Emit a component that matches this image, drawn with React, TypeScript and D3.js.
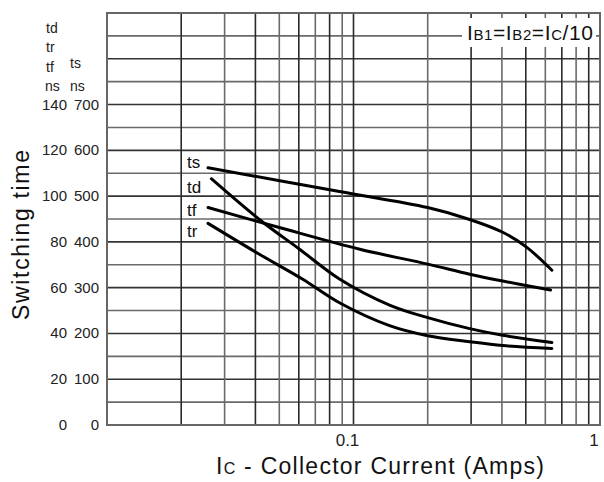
import { useEffect, useRef } from 'react'
import * as d3 from 'd3'

const tsI = [0.0257, 0.0877, 0.2, 0.296, 0.403, 0.505, 0.638]
const tsNs = [562, 510, 475, 449, 421, 388, 338] // right axis

const tdI = [0.0265, 0.0415, 0.0604, 0.0877, 0.14, 0.2, 0.296, 0.403, 0.638]
const tdNs = [107.6, 89.8, 76.8, 63.8, 52.4, 46.9, 42.1, 39.2, 36.0]

const tfI = [0.0257, 0.05, 0.106, 0.2, 0.296, 0.403, 0.63]
const tfNs = [95.0, 86.3, 76.8, 70.3, 65.9, 62.9, 59.0]

const trI = [0.0257, 0.0415, 0.062, 0.0877, 0.14, 0.2, 0.296, 0.403, 0.638]
const trNs = [88.1, 74.6, 63.8, 53.4, 43.4, 39.0, 36.4, 34.7, 33.4]

const leftTicks = [0, 20, 40, 60, 80, 100, 120, 140]
const rightTicks = [0, 100, 200, 300, 400, 500, 600, 700]
const xGrid = [0.02, 0.03, 0.04, 0.05, 0.06, 0.07, 0.08, 0.09, 0.1, 0.2, 0.3, 0.4, 0.5, 0.6, 0.7, 0.8, 0.9]
const xLabels = [0.1, 1]

const curveLabels = ['ts', 'td', 'tf', 'tr']

export default function App() {
  const svgRef = useRef<SVGSVGElement>(null)

  useEffect(() => {
    const el = svgRef.current
    if (!el) return
    const width = 604
    const height = 482
    const m = { left: 107, right: 4, top: 13, bottom: 57 }

    const x = d3.scaleLog().domain([0.01, 1]).range([m.left, width - m.right])
    const yL = d3.scaleLinear().domain([0, 180]).range([height - m.bottom, m.top])
    const yR = d3.scaleLinear().domain([0, 900]).range([height - m.bottom, m.top])

    const svg = d3.select(el)
    svg.selectAll('*').remove()
    const font = 'Liberation Sans, Arial, sans-serif'

    // grid
    const g = svg.append('g')
    g.selectAll('line.h')
      .data(d3.range(10, 180, 10))
      .join('line')
      .attr('x1', m.left).attr('x2', width - m.right)
      .attr('y1', d => yL(d)).attr('y2', d => yL(d))
      .attr('stroke', d => (d % 20 === 0 ? '#333' : '#6a6a6a'))
      .attr('stroke-width', 1.6)
    g.selectAll('line.v')
      .data(xGrid)
      .join('line')
      .attr('x1', d => x(d)).attr('x2', d => x(d))
      .attr('y1', m.top).attr('y2', height - m.bottom)
      .attr('stroke', (d, i) => (i % 2 === 0 ? '#2a2a2a' : '#6a6a6a'))
      .attr('stroke-width', 1.6)
    g.append('rect')
      .attr('x', m.left).attr('y', m.top)
      .attr('width', width - m.right - m.left)
      .attr('height', height - m.bottom - m.top)
      .attr('fill', 'none')
      .attr('stroke', '#666')
      .attr('stroke-width', 2)

    // legend box
    svg.append('rect')
      .attr('x', 462).attr('y', 18).attr('width', 134).attr('height', 29)
      .attr('fill', '#fff')
    const leg = svg.append('text')
      .attr('x', 467).attr('y', 40)
      .attr('font-family', font).attr('fill', '#111')
      .attr('textLength', 126).attr('lengthAdjust', 'spacing')
    const parts: [string, number][] = [['I', 21], ['B1', 15], ['=', 21], ['I', 21], ['B2', 15], ['=', 21], ['I', 21], ['C', 15], ['/10', 21]]
    parts.forEach(([t, s]) => leg.append('tspan').attr('font-size', s).text(t))

    // curves
    const line = d3.line<[number, number]>().curve(d3.curveCatmullRom.alpha(0.5))
    const series: [number[], number[], d3.ScaleLinear<number, number>][] = [
      [tsI, tsNs, yR],
      [tdI, tdNs, yL],
      [tfI, tfNs, yL],
      [trI, trNs, yL],
    ]
    series.forEach(([xs, ys, sc]) => {
      const pts = xs.map((v, i) => [x(v), sc(ys[i])] as [number, number])
      svg.append('path')
        .attr('d', line(pts))
        .attr('fill', 'none')
        .attr('stroke', '#000')
        .attr('stroke-width', 3)
        .attr('stroke-linecap', 'round')
    })
    // curve names sit in a column left of the starts, nudged apart
    const nudge = [0, 14, 8, 14]
    const labelX = x(tsI[0]) - 21
    series.forEach(([xs, ys, sc], i) => {
      svg.append('text')
        .attr('x', labelX).attr('y', sc(ys[0]) + nudge[i])
        .attr('font-family', font).attr('font-size', 17).attr('fill', '#111')
        .text(curveLabels[i])
    })

    // y tick labels
    svg.append('g').selectAll('text')
      .data(leftTicks)
      .join('text')
      .attr('x', 67).attr('y', d => yL(d) + 5)
      .attr('text-anchor', 'end')
      .attr('font-family', font).attr('font-size', 15).attr('fill', '#222')
      .text(d => d)
    svg.append('g').selectAll('text')
      .data(rightTicks)
      .join('text')
      .attr('x', 99).attr('y', d => yR(d) + 5)
      .attr('text-anchor', 'end')
      .attr('font-family', font).attr('font-size', 15).attr('fill', '#222')
      .text(d => d)

    // unit labels top-left
    const units: [string, number, number][] = [
      ['td', 46, 33], ['tr', 46, 52], ['tf', 46, 72], ['ns', 45, 91], ['ts', 70, 68], ['ns', 70, 91],
    ]
    svg.append('g').selectAll('text')
      .data(units)
      .join('text')
      .attr('x', d => d[1]).attr('y', d => d[2])
      .attr('font-family', font).attr('font-size', 14).attr('fill', '#222')
      .text(d => d[0])

    // x tick labels
    svg.append('g').selectAll('text')
      .data(xLabels)
      .join('text')
      .attr('x', d => x(d) - 6).attr('y', 446)
      .attr('text-anchor', 'middle')
      .attr('font-family', font).attr('font-size', 17).attr('fill', '#222')
      .text(d => String(d))

    // axis titles
    const xt = svg.append('text')
      .attr('x', 216).attr('y', 474)
      .attr('font-family', font).attr('fill', '#111')
      .attr('textLength', 328).attr('lengthAdjust', 'spacing')
    xt.append('tspan').attr('font-size', 23).text('I')
    xt.append('tspan').attr('font-size', 16).text('C')
    xt.append('tspan').attr('font-size', 23).text(' - Collector Current (Amps)')

    svg.append('text')
      .attr('transform', 'translate(29,235) rotate(-90)')
      .attr('text-anchor', 'middle')
      .attr('font-family', font).attr('font-size', 23).attr('fill', '#111')
      .attr('textLength', 170).attr('lengthAdjust', 'spacing')
      .text('Switching time')
  }, [])

  return (
    <svg
      ref={svgRef}
      width={604}
      height={482}
      style={{ display: 'block', position: 'absolute', left: 0, top: 0, background: '#fff' }}
    />
  )
}
